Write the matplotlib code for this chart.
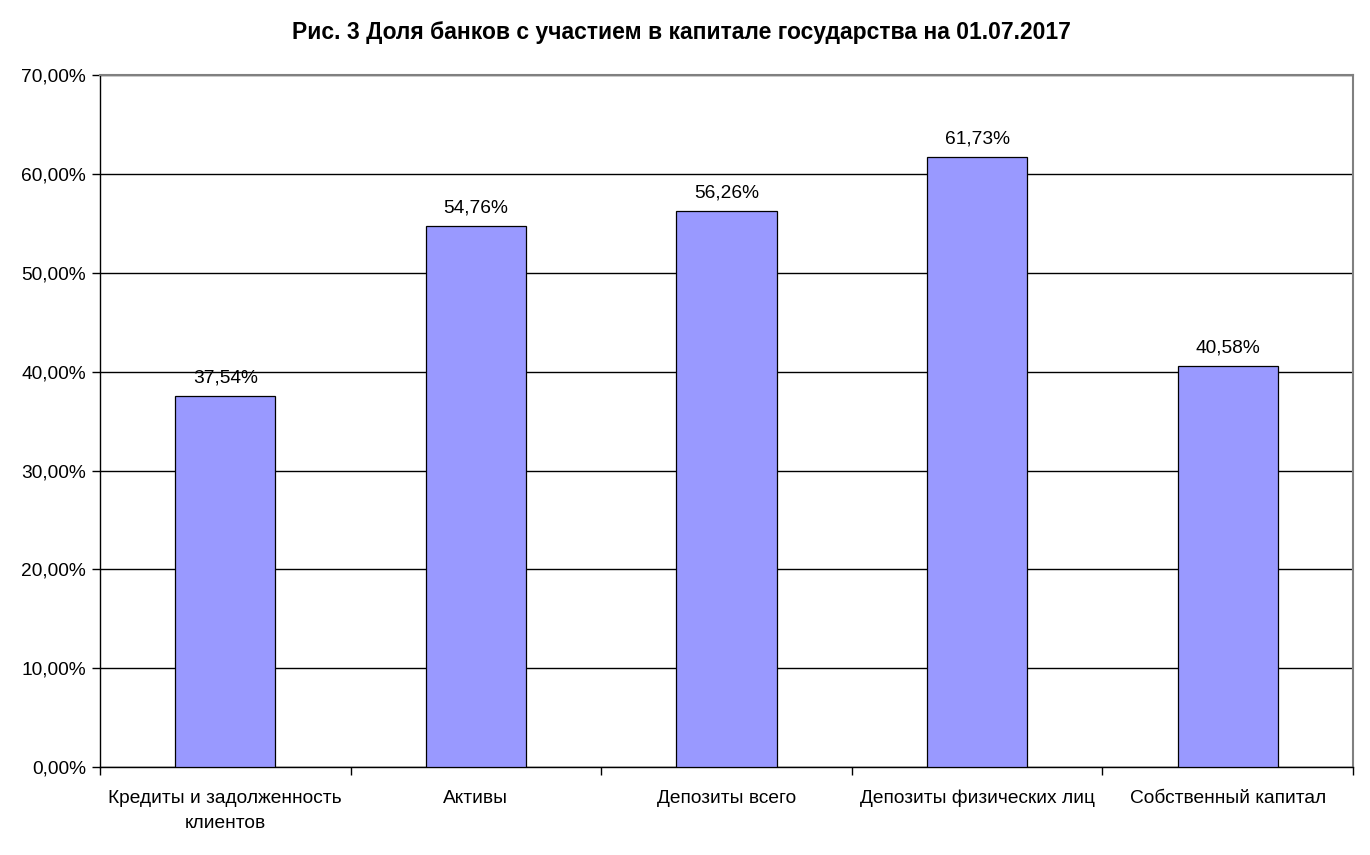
import matplotlib
matplotlib.use("Agg")
import matplotlib.pyplot as plt
import matplotlib.transforms as mtransforms
from matplotlib.ticker import FuncFormatter, FixedLocator, NullFormatter

plt.rcParams['font.family'] = ['Liberation Sans', 'DejaVu Sans']

categories = ["Кредиты и задолженность\nклиентов", "Активы", "Депозиты всего",
              "Депозиты физических лиц", "Собственный капитал"]
values = [37.54, 54.76, 56.26, 61.73, 40.58]
title = "Рис. 3 Доля банков с участием в капитале государства на 01.07.2017"

FS = 13.8
DPI = 100

fig = plt.figure(figsize=(13.7, 8.55), dpi=DPI)
ax = fig.add_axes([100/1370, 88/855, 1253/1370, 691.5/855])

x = list(range(len(categories)))
bars = ax.bar(x, values, width=0.4, color="#9999FF", edgecolor="black", linewidth=0.9, zorder=3)

ax.set_xlim(-0.5, len(categories) - 0.5)
ax.set_ylim(0, 70)
ax.set_yticks(range(0, 71, 10))
ax.yaxis.set_major_formatter(FuncFormatter(lambda v, p: f"{v:.2f}%".replace(".", ",")))
ax.yaxis.grid(True, color="black", linewidth=1.0, zorder=0)

ax.set_xticks(x)
ax.set_xticklabels([])
ax.tick_params(axis="x", which="major", length=0)
ax.xaxis.set_minor_locator(FixedLocator([i - 0.5 for i in range(len(categories) + 1)]))
ax.xaxis.set_minor_formatter(NullFormatter())
ax.tick_params(axis="x", which="minor", length=6, width=1, color="black", direction="out")
ax.tick_params(axis="y", length=6, width=1, labelsize=FS, pad=4)

# category labels: first-line baseline ~36 px below the axis, 25 px between lines
base = mtransforms.blended_transform_factory(ax.transData, ax.transAxes)
for xi, lab in zip(x, categories):
    lines = lab.split("\n")
    for k, line in enumerate(lines):
        tr = base + mtransforms.ScaledTranslation(0, -(36 + 25 * k) / DPI, fig.dpi_scale_trans)
        ax.text(xi, 0, line, transform=tr, ha="center", va="baseline", fontsize=FS, clip_on=False)

for s in ("left", "bottom"):
    ax.spines[s].set_color("black")
    ax.spines[s].set_linewidth(1.0)
for s in ("top", "right"):
    ax.spines[s].set_color("#808080")
    ax.spines[s].set_linewidth(1.5)

for xi, v in zip(x, values):
    ax.annotate(f"{v:.2f}%".replace(".", ","), (xi, v), xytext=(0, 7), textcoords="offset points",
                ha="center", va="bottom", fontsize=FS)

fig.text(681.5/1370, 1 - 32/855, title, ha="center", va="center", fontsize=16.5, fontweight="bold")

fig.savefig("out.png", dpi=DPI, facecolor="white")
